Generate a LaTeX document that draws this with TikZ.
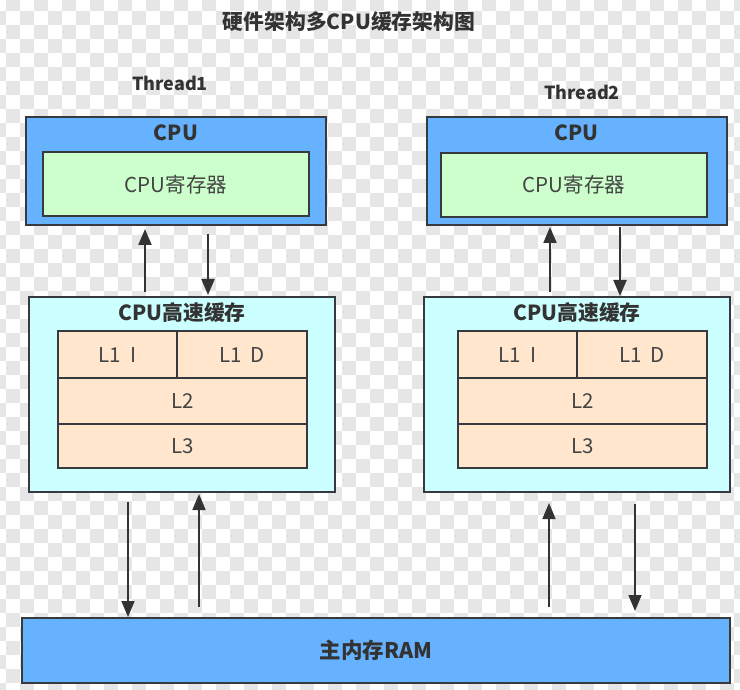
\documentclass[tikz,border=0pt]{standalone}
\usepackage{fontspec}
\setmainfont{Noto Sans CJK SC}
\usetikzlibrary{arrows.meta,positioning}
\definecolor{checkgray}{HTML}{E6E6E6}
\definecolor{cpublue}{HTML}{66B2FF}
\definecolor{reggreen}{HTML}{CCFFCC}
\definecolor{cachecyan}{HTML}{CCFFFF}
\definecolor{levelpeach}{HTML}{FFE6CC}
\definecolor{edgegray}{HTML}{36393D}
\definecolor{textdark}{HTML}{333333}
\definecolor{textsoft}{HTML}{444444}
\tikzset{
      unitbox/.style={
        draw=edgegray,
        line width=2pt,
        inner sep=0pt,
        text=textsoft,
        font=\fontsize{20.5}{24}\selectfont
      },
      cpubox/.style={unitbox, fill=cpublue, minimum width=300pt, minimum height=108pt},
      regbox/.style={unitbox, fill=reggreen, minimum width=266pt, minimum height=64pt},
      cachebox/.style={unitbox, fill=cachecyan, minimum width=306pt, minimum height=195pt},
      levelbox/.style={unitbox, fill=levelpeach},
      rambox/.style={unitbox, fill=cpublue, minimum width=708pt, minimum height=65pt},
      headtext/.style={inner sep=0pt, text=textdark, font=\bfseries\fontsize{20.8}{24}\selectfont},
      flow/.style={-{Triangle[length=16pt,width=13pt]}, line width=2pt, draw=textdark}
    }

\begin{document}
\begin{tikzpicture}[x=1pt,y=-1pt]
    \useasboundingbox (0,0) rectangle (740,690);
    % transparent background
    \begin{scope}
    \clip (0,0) rectangle (740,690);
    \foreach \k in {-1,...,52}{
      \foreach \j in {-1,...,48}{
        \pgfmathparse{int(mod(\k+\j+2,2))}
        \ifnum\pgfmathresult=1
          \fill[checkgray] ({5.7+14*\k},{11+14*\j}) rectangle ++(14,14);
        \fi
      }
    }
    \end{scope}

    \node[headtext] (title) at (349,22) {硬件架构多CPU缓存架构图};
    \node[headtext, font=\bfseries\fontsize{18}{22}\selectfont] (thread1) at (170,83) {Thread1};
    \node[headtext, font=\bfseries\fontsize{18}{22}\selectfont] (thread2) at (582,92) {Thread2};

    % core 1
    \node[cpubox] (cpu1) at (176,171) {};
    \node[headtext] (cpu1head) at (176,133) {CPU};
    \node[regbox] (reg1) at (176,184.5) {CPU寄存器};
    \node[cachebox] (cache1) at (182,394.5) {};
    \node[headtext] (cache1head) at (182,313) {CPU高速缓存};
    \node[levelbox, minimum width=119pt, minimum height=47pt] (l1i1) at (117.5,354.5) {L1\ \ I};
    \node[levelbox, minimum width=130pt, minimum height=47pt] (l1d1) at (242,354.5) {L1\ \ D};
    \node[levelbox, minimum width=249pt, minimum height=46pt] (l21) at (182.5,401) {L2};
    \node[levelbox, minimum width=249pt, minimum height=44pt] (l31) at (182.5,446) {L3};

    % core 2
    \node[cpubox] (cpu2) at (576.5,171) {};
    \node[headtext] (cpu2head) at (576.5,133) {CPU};
    \node[regbox] (reg2) at (574,185) {CPU寄存器};
    \node[cachebox] (cache2) at (577,394.5) {};
    \node[headtext] (cache2head) at (577,313) {CPU高速缓存};
    \node[levelbox, minimum width=119pt, minimum height=47pt] (l1i2) at (517.5,354.5) {L1\ \ I};
    \node[levelbox, minimum width=130pt, minimum height=47pt] (l1d2) at (642,354.5) {L1\ \ D};
    \node[levelbox, minimum width=249pt, minimum height=46pt] (l22) at (582.5,401) {L2};
    \node[levelbox, minimum width=249pt, minimum height=44pt] (l32) at (582.5,446) {L3};

    \node[rambox] (ram) at (376,650.5) {\bfseries\fontsize{21.5}{24}\selectfont\color{textdark}主内存RAM};

    \draw[flow] ([xshift=-37pt,yshift=4pt]cache1.north) -- ([xshift=-31pt,yshift=-3pt]cpu1.south);
    \draw[flow] ([xshift=32pt,yshift=-8pt]cpu1.south) -- ([xshift=26pt,yshift=1pt]cache1.north);
    \draw[flow] ([xshift=-27pt,yshift=4pt]cache2.north) -- ([xshift=-26.5pt,yshift=-1pt]cpu2.south);
    \draw[flow] ([xshift=43.5pt,yshift=-1pt]cpu2.south) -- ([xshift=43pt]cache2.north);

    \draw[flow, line width=1.6pt] ([xshift=-54pt,yshift=-9pt]cache1.south) -- ([xshift=-248pt]ram.north);
    \draw[flow, line width=1.6pt] ([xshift=-177pt,yshift=10pt]ram.north) -- ([xshift=17pt,yshift=-1pt]cache1.south);
    \draw[flow, line width=1.6pt] ([xshift=173pt,yshift=10pt]ram.north) -- ([xshift=-28pt,yshift=-10pt]cache2.south);
    \draw[flow, line width=1.6pt] ([xshift=58pt,yshift=-11pt]cache2.south) -- ([xshift=259pt,yshift=6pt]ram.north);
    \end{tikzpicture}
\end{document}
